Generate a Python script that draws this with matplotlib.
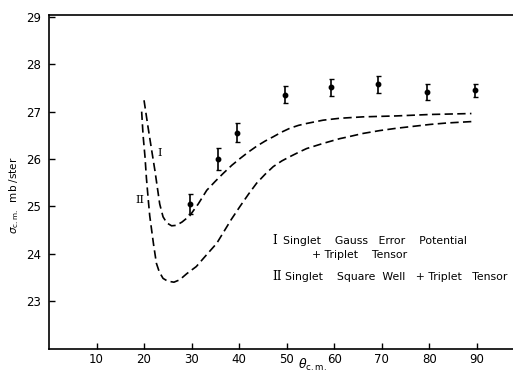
import matplotlib
matplotlib.use("Agg")
import matplotlib.pyplot as plt

# Experimental points
theta_exp = [29.7, 35.6, 39.6, 49.6, 59.4, 69.3, 79.6, 89.6]
sigma_exp = [25.05, 26.00, 26.55, 27.36, 27.51, 27.58, 27.41, 27.45]
sigma_err = [0.22, 0.24, 0.20, 0.18, 0.17, 0.18, 0.17, 0.14]

# Curve I: Singlet Gauss Error Potential + Triplet Tensor
theta_I = [20.0, 20.8, 21.6, 22.3, 22.8, 23.3, 24.0, 24.8, 25.8, 26.8, 28.0, 29.6,
           31.4, 33.2, 35.0, 36.7, 38.5, 40.2, 42.0, 43.7, 45.5, 47.2, 49.0, 50.7,
           52.5, 54.2, 57.7, 61.2, 66.1, 73.2, 80.2, 88.9]
sigma_I = [27.24, 26.70, 26.19, 25.75, 25.40, 25.05, 24.78, 24.65, 24.59, 24.60, 24.67, 24.80,
           25.05, 25.34, 25.53, 25.70, 25.87, 26.01, 26.15, 26.27, 26.38, 26.47, 26.57, 26.65,
           26.71, 26.75, 26.82, 26.86, 26.89, 26.91, 26.94, 26.96]

# Curve II: Singlet Square Well + Triplet Tensor
theta_II = [19.5, 19.8, 20.2, 20.5, 20.9, 21.2, 21.6, 22.0, 22.6, 23.2, 24.0, 25.0, 26.3,
            27.5, 29.0, 31.0, 33.0, 35.3, 37.0, 38.4, 40.2, 42.0, 43.7, 45.5, 47.2, 49.0,
            50.7, 52.5, 54.2, 57.7, 61.2, 62.6, 66.1, 69.6, 73.2, 76.7, 80.2, 83.7, 88.9]
sigma_II = [27.00, 26.50, 26.05, 25.60, 25.13, 24.80, 24.50, 24.20, 23.80, 23.62, 23.48, 23.42, 23.40,
            23.45, 23.58, 23.73, 23.96, 24.22, 24.50, 24.73, 25.00, 25.26, 25.49, 25.68, 25.84, 25.96,
            26.05, 26.14, 26.22, 26.33, 26.43, 26.46, 26.54, 26.60, 26.65, 26.69, 26.73, 26.76, 26.79]

xticks = [10, 20, 30, 40, 50, 60, 70, 80, 90]
yticks = [23, 24, 25, 26, 27, 28, 29]

fig = plt.figure(figsize=(5.13, 3.75), dpi=100)
W, H = 513.0, 375.0
left_px, right_px, top_px, bot_px = 49.0, 513.0, 15.0, 348.5
ax = fig.add_axes([left_px / W, 1 - bot_px / H, (right_px - left_px) / W, (bot_px - top_px) / H])

ax.plot(theta_I, sigma_I, color="black", lw=1.2, linestyle=(0, (5, 2.6)))
ax.plot(theta_II, sigma_II, color="black", lw=1.2, linestyle=(0, (5, 2.6)))
ax.errorbar(theta_exp, sigma_exp, yerr=sigma_err, fmt="o", color="black",
            ms=3.2, elinewidth=1.2, capsize=1.8, capthick=1.0)

ax.set_xlim(0, 97.65)
ax.set_ylim(22.0, 29.04)
ax.set_xticks(xticks)
ax.set_yticks(yticks)
ax.set_xticklabels([str(v) for v in xticks])
ax.set_yticklabels([str(v) for v in yticks])
ax.tick_params(direction="in", length=4, width=1.0, labelsize=8.5, colors="black")
ax.tick_params(axis="y", pad=6)
ax.tick_params(axis="x", pad=3)
for s in ["left", "top", "bottom"]:
    ax.spines[s].set_linewidth(1.2)
ax.spines["right"].set_visible(False)

ax.text(23.3, 26.12, "I", family="DejaVu Serif", fontsize=8, ha="center", va="center")
ax.text(19.1, 25.13, "II", family="DejaVu Serif", fontsize=8, ha="center", va="center")

fs = 7.8
ax.text(47.0, 24.27, "I", family="DejaVu Serif", fontsize=8.5, ha="left", va="center")
ax.text(49.3, 24.27, "Singlet    Gauss   Error    Potential", fontsize=fs, ha="left", va="center")
ax.text(55.3, 23.97, "+ Triplet    Tensor", fontsize=fs, ha="left", va="center")
ax.text(46.9, 23.51, "II", family="DejaVu Serif", fontsize=8.5, ha="left", va="center")
ax.text(49.6, 23.51, "Singlet    Square  Well   + Triplet   Tensor", fontsize=fs, ha="left", va="center")

fig.text(14 / W, 1 - 195 / H, r"$\sigma_{\rm c.m.}$  mb /ster", rotation=90,
         fontsize=7.5, ha="center", va="center")
fig.text(298 / W, 1 - 365 / H, r"$\theta_{\rm c.m.}$", fontsize=9, ha="left", va="center")

fig.savefig("out.png", dpi=100)
